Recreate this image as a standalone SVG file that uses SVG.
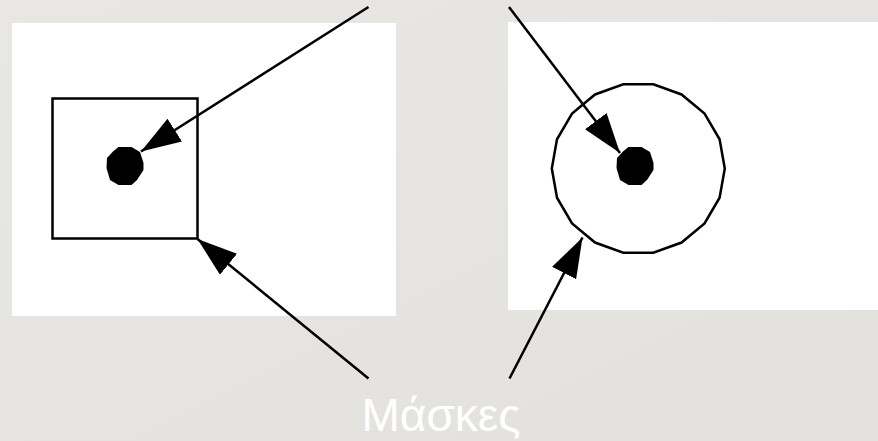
<svg xmlns="http://www.w3.org/2000/svg" width="878" height="441" viewBox="0 0 878 441">
  <defs>
    <linearGradient id="bg" x1="0" y1="0" x2="1" y2="1">
      <stop offset="0" stop-color="#e9e7e4"/>
      <stop offset="1" stop-color="#e3e1dd"/>
    </linearGradient>
    <marker id="head" markerUnits="userSpaceOnUse" markerWidth="41" markerHeight="28" refX="40" refY="13.5" orient="auto" viewBox="0 0 41 28">
      <path d="M0,0 L40,13.5 L0,27 Z" fill="#000"/>
    </marker>
    <!-- filled dot: 12-sided blob -->
    <polygon id="dot" points="-6.5,-19 6.5,-19 15,-14 18.5,-3 18.5,4 12,14 6.5,19 -6.5,19 -15,14 -18.5,2 -18,-8 -11.5,-15"/>
  </defs>
  <style>
    .panel { fill: #ffffff; }
    .outline { fill: none; stroke: #000; stroke-width: 2.5; stroke-linejoin: miter; }
    .conn { stroke: #000; stroke-width: 2.5; fill: none; marker-end: url(#head); }
    .label { font-family: "Liberation Sans", "DejaVu Sans", sans-serif; font-size: 46px; fill: #ffffff; }
  </style>

  <rect width="878" height="441" fill="url(#bg)"/>

  <!-- left panel: square mask around a point -->
  <g id="panel-square">
    <rect class="panel" x="12" y="23" width="384" height="293"/>
    <rect class="outline" x="52.5" y="98.5" width="145" height="140"/>
    <use href="#dot" x="125" y="166"/>
  </g>

  <!-- right panel: circular (18-gon) mask around a point -->
  <g id="panel-circle">
    <rect class="panel" x="508" y="22" width="370" height="288"/>
    <polygon class="outline" transform="translate(638.3 168.5) scale(86.5 85.5)" vector-effect="non-scaling-stroke"
      points="1,0 0.9397,0.342 0.766,0.6428 0.5,0.866 0.1736,0.9848 -0.1736,0.9848 -0.5,0.866 -0.766,0.6428 -0.9397,0.342 -1,0 -0.9397,-0.342 -0.766,-0.6428 -0.5,-0.866 -0.1736,-0.9848 0.1736,-0.9848 0.5,-0.866 0.766,-0.6428 0.9397,-0.342"/>
    <use href="#dot" x="635" y="166"/>
  </g>

  <g id="label">
    <text class="label" x="441" y="431" text-anchor="middle">Μάσκες</text>
  </g>

  <g id="connectors">
    <line class="conn" x1="368.5" y1="7" x2="141" y2="151.5"/>
    <line class="conn" x1="368.5" y1="378.5" x2="197.5" y2="239"/>
    <line class="conn" x1="509" y1="7" x2="620" y2="153"/>
    <line class="conn" x1="509.5" y1="378.5" x2="582.5" y2="237.5"/>
  </g>
</svg>
